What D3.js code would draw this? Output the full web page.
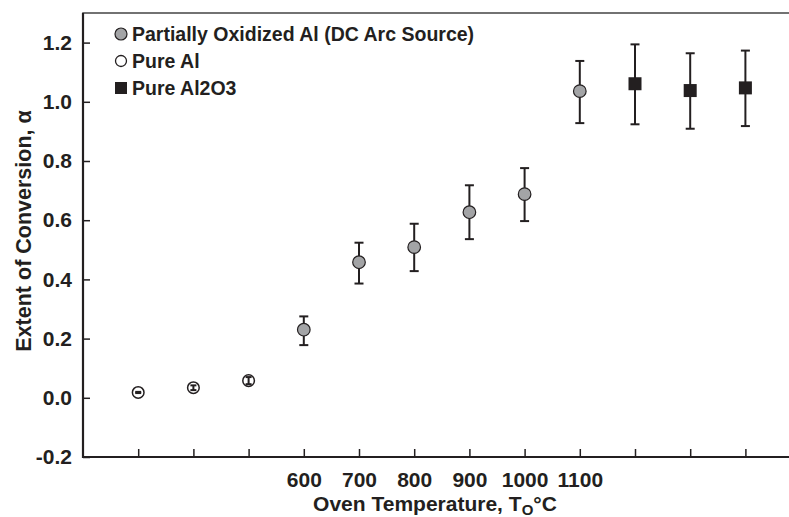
<!DOCTYPE html>
<html lang="en">
  <head>
    <meta charset="utf-8">
    <title>Extent of Conversion</title>
    <script src="https://d3js.org/d3.v7.min.js"></script>
    <style>
      body { margin: 0; background: white; }
    </style>
  </head>
  <body>
    <script type="text/javascript">
      // category slots along the x axis, and their labels
      const slots = [0, 1, 2, 3, 4, 5, 6, 7, 8, 9, 10, 11];
      const tickLabels = ["", "", "", "600", "700", "800", "900", "1000", "1100", "", "", ""];
      const yTicks = [-0.2, 0.0, 0.2, 0.4, 0.6, 0.8, 1.0, 1.2];

      // Pure Al (open circles)
      const pureAlSlot = [0, 1, 2];
      const pureAlValue = [0.018, 0.034, 0.058];
      const pureAlLow = [0.016, 0.026, 0.046];
      const pureAlHigh = [0.020, 0.042, 0.070];

      // Partially oxidized Al (grey circles)
      const oxSlot = [3, 4, 5, 6, 7, 8];
      const oxValue = [0.230, 0.458, 0.509, 0.627, 0.688, 1.036];
      const oxLow = [0.178, 0.386, 0.428, 0.536, 0.597, 0.928];
      const oxHigh = [0.275, 0.524, 0.588, 0.718, 0.776, 1.138];

      // Pure Al2O3 (black squares)
      const aloSlot = [9, 10, 11];
      const aloValue = [1.061, 1.038, 1.047];
      const aloLow = [0.924, 0.909, 0.918];
      const aloHigh = [1.194, 1.164, 1.173];

      const legendLabels = ["Partially Oxidized Al (DC Arc Source)", "Pure Al", "Pure Al2O3"];

      const width = 789, height = 517;
      const plotLeft = 83, plotTop = 13, plotRight = 800.6, plotBottom = 457;
      const font = "'Liberation Sans', Arial, Helvetica, sans-serif";
      const ink = "#231f20";

      const svg = d3.select("body").append("svg")
        .attr("width", width)
        .attr("height", height)
        .style("font-family", font);

      const x = d3.scalePoint().domain(slots).range([plotLeft, plotRight]).padding(1);
      const y = d3.scaleLinear().domain([-0.2, 1.3]).range([plotBottom, plotTop]);

      // frame
      svg.append("rect")
        .attr("x", plotLeft).attr("y", plotTop)
        .attr("width", plotRight - plotLeft).attr("height", plotBottom - plotTop)
        .attr("fill", "none")
        .attr("stroke", "#444")
        .attr("stroke-width", 1.5);

      // y axis
      const yAxis = svg.append("g")
        .attr("transform", `translate(${plotLeft},0)`)
        .call(d3.axisRight(y).tickValues(yTicks).tickSize(7));
      yAxis.select(".domain").remove();
      yAxis.selectAll(".tick line").attr("stroke", ink).attr("stroke-width", 1.5);
      yAxis.selectAll(".tick text")
        .attr("x", -11)
        .attr("text-anchor", "end")
        .attr("font-size", "21px")
        .attr("font-weight", "bold")
        .attr("fill", ink)
        .text(d => d < 0 ? "-" + Math.abs(d).toFixed(1) : d.toFixed(1));

      // x axis
      const xAxis = svg.append("g")
        .attr("transform", `translate(0,${plotBottom})`)
        .call(d3.axisTop(x).tickSize(8).tickFormat(d => tickLabels[d]));
      xAxis.select(".domain").remove();
      xAxis.selectAll(".tick line").attr("stroke", ink).attr("stroke-width", 1.5);
      xAxis.selectAll(".tick text")
        .attr("y", 30)
        .attr("font-size", "21px")
        .attr("font-weight", "bold")
        .attr("fill", ink);

      // axis lines drawn on top
      svg.append("line")
        .attr("x1", plotLeft).attr("x2", plotLeft).attr("y1", plotTop).attr("y2", plotBottom + 1)
        .attr("stroke", ink).attr("stroke-width", 2.2);
      svg.append("line")
        .attr("x1", plotLeft - 1).attr("x2", plotRight).attr("y1", plotBottom).attr("y2", plotBottom)
        .attr("stroke", ink).attr("stroke-width", 2.2);

      // axis titles
      const xt = svg.append("text")
        .attr("x", 435)
        .attr("y", 511)
        .attr("text-anchor", "middle")
        .attr("font-size", "21px")
        .attr("font-weight", "bold")
        .attr("fill", ink);
      xt.append("tspan").text("Oven Temperature, T");
      xt.append("tspan").attr("font-size", "15px").attr("dy", 4).text("O");
      xt.append("tspan").attr("dy", -4).text("°C");

      svg.append("text")
        .attr("transform", "translate(31,231) rotate(-90)")
        .attr("text-anchor", "middle")
        .attr("font-size", "21.5px")
        .attr("font-weight", "bold")
        .attr("fill", ink)
        .text("Extent of Conversion, α");

      function errorBars(slotsArr, low, high, cap) {
        const g = svg.append("g").attr("stroke", ink).attr("stroke-width", 2);
        slotsArr.forEach((s, i) => {
          const cx = x(s);
          g.append("line").attr("x1", cx).attr("x2", cx).attr("y1", y(low[i])).attr("y2", y(high[i]));
          g.append("line").attr("x1", cx - cap).attr("x2", cx + cap).attr("y1", y(low[i])).attr("y2", y(low[i]));
          g.append("line").attr("x1", cx - cap).attr("x2", cx + cap).attr("y1", y(high[i])).attr("y2", y(high[i]));
        });
      }

      // pure Al: circles first, error bars inside them
      svg.append("g").selectAll("circle")
        .data(pureAlSlot)
        .join("circle")
        .attr("cx", d => x(d))
        .attr("cy", (d, i) => y(pureAlValue[i]))
        .attr("r", 5.8)
        .attr("fill", "white")
        .attr("stroke", ink)
        .attr("stroke-width", 1.5);
      errorBars(pureAlSlot, pureAlLow, pureAlHigh, 3);

      // partially oxidized
      errorBars(oxSlot, oxLow, oxHigh, 4.5);
      svg.append("g").selectAll("circle")
        .data(oxSlot)
        .join("circle")
        .attr("cx", d => x(d))
        .attr("cy", (d, i) => y(oxValue[i]))
        .attr("r", 6.3)
        .attr("fill", "#a3a4a6")
        .attr("stroke", ink)
        .attr("stroke-width", 1.2);

      // pure Al2O3
      errorBars(aloSlot, aloLow, aloHigh, 4.5);
      svg.append("g").selectAll("rect")
        .data(aloSlot)
        .join("rect")
        .attr("x", d => x(d) - 6.5)
        .attr("y", (d, i) => y(aloValue[i]) - 6.5)
        .attr("width", 13)
        .attr("height", 13)
        .attr("fill", ink);

      // legend
      const legendY = [34, 61, 88];
      const legend = svg.append("g");
      legend.append("circle").attr("cx", 121).attr("cy", legendY[0]).attr("r", 6)
        .attr("fill", "#a3a4a6").attr("stroke", ink).attr("stroke-width", 1.2);
      legend.append("circle").attr("cx", 121).attr("cy", legendY[1]).attr("r", 5.5)
        .attr("fill", "white").attr("stroke", ink).attr("stroke-width", 1.3);
      legend.append("rect").attr("x", 115).attr("y", legendY[2] - 6).attr("width", 12).attr("height", 12)
        .attr("fill", ink);
      legend.selectAll("text")
        .data(legendLabels)
        .join("text")
        .attr("x", 132)
        .attr("y", (d, i) => legendY[i] + 7)
        .attr("font-size", "19.5px")
        .attr("font-weight", "bold")
        .attr("fill", ink)
        .text(d => d);
    </script>
  </body>
</html>
